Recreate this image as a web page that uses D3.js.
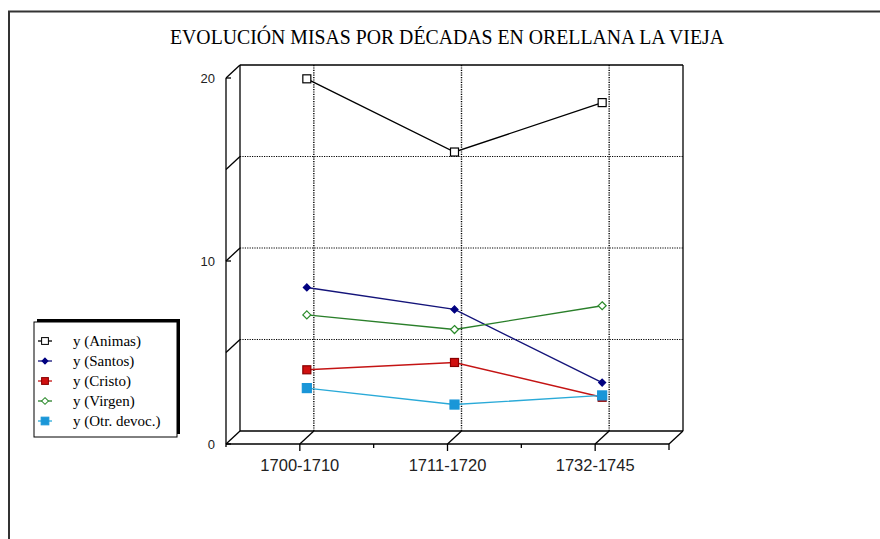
<!DOCTYPE html>
<html>
<head>
<meta charset="utf-8">
<script src="https://cdn.jsdelivr.net/npm/d3@7"></script>
<style>
  html, body { margin: 0; padding: 0; background: #fff; }
  svg { display: block; }
</style>
</head>
<body>
<script>
// Masses per decade, Orellana la Vieja
const categories = ["1700-1710", "1711-1720", "1732-1745"];
const seriesNames = ["y (Animas)", "y (Santos)", "y (Cristo)", "y (Virgen)", "y (Otr. devoc.)"];
const animas = [19.6, 15.6, 18.3];
const santos = [8.2, 7.0, 3.0];
const cristo = [3.7, 4.1, 2.2];
const virgen = [6.7, 5.9, 7.2];
const otras = [2.7, 1.8, 2.3];
const yTicks = [0, 5, 10, 15, 20];
const yLabels = [0, 10, 20];
const titleText = "EVOLUCIÓN MISAS POR DÉCADAS EN ORELLANA LA VIEJA";

const W = 880, H = 539;
const svg = d3.select("body").append("svg").attr("width", W).attr("height", H);

// outer frame
svg.append("rect").attr("x", 9).attr("y", 11.5).attr("width", 900).attr("height", 600)
  .attr("fill", "none").attr("stroke", "#333").attr("stroke-width", 2);

// title
svg.append("text").attr("x", 447).attr("y", 44).attr("text-anchor", "middle")
  .attr("font-family", "'Liberation Serif', 'Times New Roman', serif").attr("font-size", 21)
  .attr("textLength", 554).attr("lengthAdjust", "spacingAndGlyphs")
  .attr("fill", "#000").text(titleText);

// 3D axis frame: front plane scales, back plane offset by depth
const DX = 14, DY = -13;
const x = d3.scaleBand().domain(categories).range([226, 669]);
const y = d3.scaleLinear().domain([0, 20]).range([444, 78]);
const xc = c => x(c) + x.bandwidth() / 2;

const g = svg.append("g");
const line = (x1, y1, x2, y2, opts = {}) =>
  g.append("line").attr("x1", x1).attr("y1", y1).attr("x2", x2).attr("y2", y2)
    .attr("stroke", opts.color || "#000").attr("stroke-width", opts.w || 1.3)
    .attr("stroke-dasharray", opts.dash || null);

const bx0 = x.range()[0] + DX, bx1 = x.range()[1] + DX;

// back-plane dotted grid
yTicks.filter(t => t > 0 && t < 20).forEach(t => {
  line(bx0, y(t) + DY, bx1, y(t) + DY, { dash: "1.2,1.2", w: 1.2 });
});
categories.forEach(c => {
  line(xc(c) + DX, y(20) + DY, xc(c) + DX, y(0) + DY, { dash: "1.2,1.2", w: 1.4 });
});

// back-plane border
line(bx0, y(20) + DY, bx1, y(20) + DY);
line(bx1, y(20) + DY, bx1, y(0) + DY);
line(bx0, y(20) + DY, bx0, y(0) + DY);
line(bx0, y(0) + DY, bx1, y(0) + DY);

// front y axis with depth connectors
line(226, y(20), 226, y(0) + 3);
yTicks.forEach(t => line(226, y(t), 226 + DX, y(t) + DY));
yLabels.forEach(t => {
  line(226, y(t), 231, y(t));
  g.append("text").attr("x", 215).attr("y", y(t)).attr("dy", "0.36em")
    .attr("text-anchor", "end").attr("font-family", "'Liberation Sans', Arial, sans-serif")
    .attr("font-size", 13).attr("fill", "#222").text(t);
});

// front x axis with depth connectors
line(226, y(0), 669, y(0));
categories.forEach(c => {
  line(xc(c), y(0), xc(c), y(0) + 7);
  line(xc(c), y(0), xc(c) + DX, y(0) + DY);
  g.append("text").attr("x", xc(c)).attr("y", 471).attr("text-anchor", "middle")
    .attr("font-family", "'Liberation Sans', Arial, sans-serif").attr("font-size", 16.5)
    .attr("fill", "#222").text(c);
});
categories.slice(1).forEach(c => line(x(c), y(0), x(c), y(0) + 4));
line(669, y(0), 669, y(0) + 6);
line(669, y(0), 669 + DX, y(0) + DY);

// series, drawn at mid depth
const mx = c => xc(c) + DX / 2;
const my = v => y(v) + DY / 2;

const square = (sel, s, fill, stroke) => sel.append("rect")
  .attr("x", -s / 2).attr("y", -s / 2).attr("width", s).attr("height", s)
  .attr("fill", fill).attr("stroke", stroke).attr("stroke-width", 1.2);
const diamond = (sel, s, fill, stroke) => sel.append("path")
  .attr("d", `M0,${-s / 2}L${s / 2},0L0,${s / 2}L${-s / 2},0Z`)
  .attr("fill", fill).attr("stroke", stroke).attr("stroke-width", 1.2);

const series = [
  { name: seriesNames[0], values: animas, line: "#000", marker: s => square(s, 8, "#fff", "#000") },
  { name: seriesNames[1], values: santos, line: "#14147a", marker: s => diamond(s, 7, "#000080", "#000080") },
  { name: seriesNames[2], values: cristo, line: "#c41414", marker: s => square(s, 8, "#d01010", "#8a0000") },
  { name: seriesNames[3], values: virgen, line: "#2a7f2a", marker: s => diamond(s, 8, "#fff", "#2a8a2a") },
  { name: seriesNames[4], values: otras, line: "#2aaad8", marker: s => square(s, 9, "#1a96d8", "#1a96d8") }
];

const lineGen = d3.line().x(d => mx(d.c)).y(d => my(d.v));
series.forEach(s => {
  const pts = categories.map((c, i) => ({ c, v: s.values[i] }));
  svg.append("path").datum(pts).attr("d", lineGen)
    .attr("fill", "none").attr("stroke", s.line).attr("stroke-width", 1.4);
  pts.forEach(p => {
    const m = svg.append("g").attr("transform", `translate(${mx(p.c)},${my(p.v)})`);
    s.marker(m);
  });
});

// legend with drop shadow
const lg = svg.append("g");
lg.append("rect").attr("x", 37).attr("y", 319).attr("width", 143).attr("height", 115).attr("fill", "#000");
lg.append("rect").attr("x", 34).attr("y", 322).attr("width", 143).attr("height", 115)
  .attr("fill", "#fff").attr("stroke", "#000").attr("stroke-width", 1);
series.forEach((s, i) => {
  const ry = 341 + i * 20;
  lg.append("line").attr("x1", 38).attr("x2", 52).attr("y1", ry).attr("y2", ry)
    .attr("stroke", s.line).attr("stroke-width", 1.3);
  const m = lg.append("g").attr("transform", `translate(45,${ry}) scale(0.85)`);
  s.marker(m);
  lg.append("text").attr("x", 73).attr("y", ry).attr("dy", "0.33em")
    .attr("font-family", "'Liberation Serif', 'Times New Roman', serif").attr("font-size", 15)
    .attr("fill", "#000").text(s.name);
});
</script>
</body>
</html>
